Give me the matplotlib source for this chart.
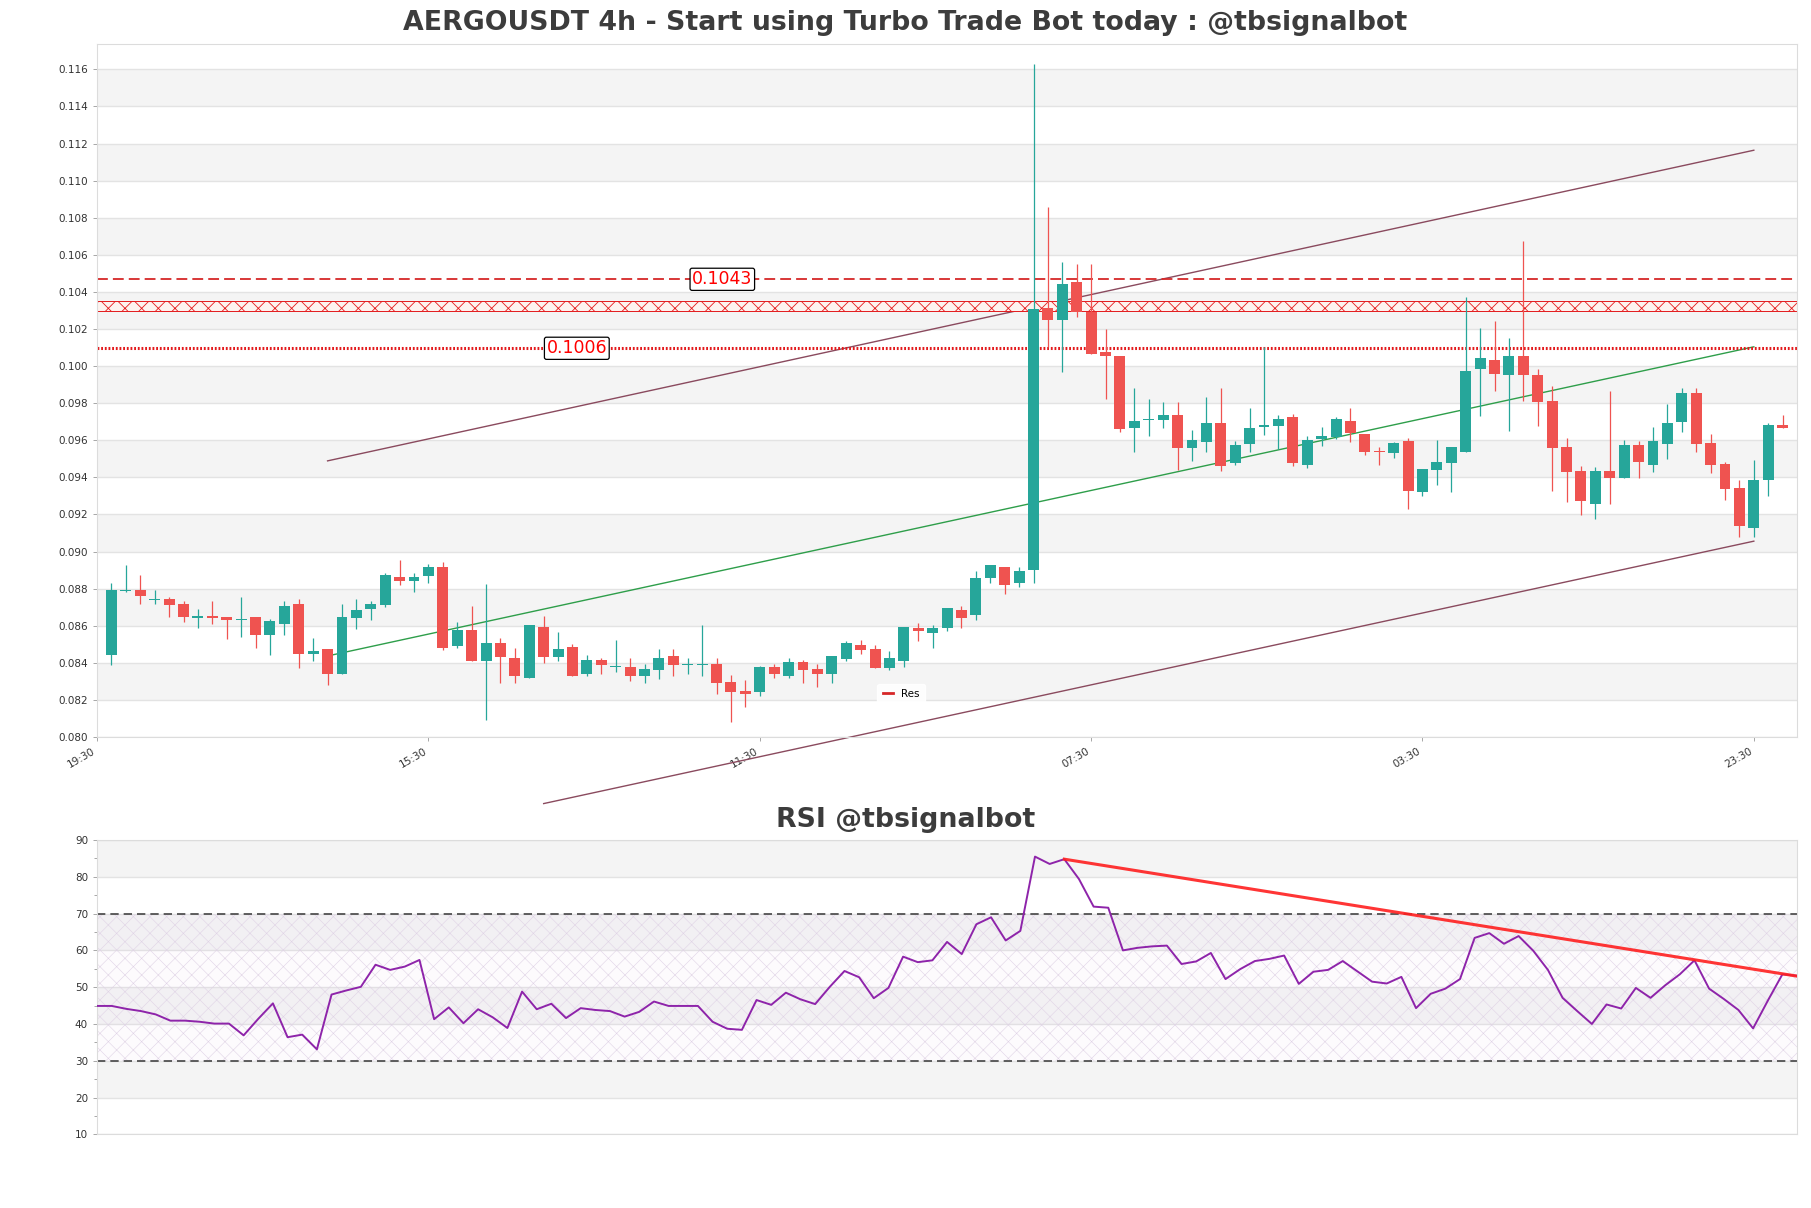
import matplotlib
matplotlib.use("Agg")
import matplotlib.pyplot as plt
import numpy as np

# candle data (4h)
opens = [0.08442, 0.08788, 0.08791, 0.08741, 0.08743, 0.08716, 0.08644, 0.08651, 0.08645, 0.08631,
         0.08645, 0.08550, 0.08609, 0.08716, 0.08447, 0.08473, 0.08339, 0.08642, 0.08690, 0.08712,
         0.08861, 0.08842, 0.08869, 0.08915, 0.08490, 0.08575, 0.08410, 0.08505, 0.08424, 0.08320,
         0.08591, 0.08431, 0.08483, 0.08339, 0.08413, 0.08377, 0.08375, 0.08329, 0.08361, 0.08435,
         0.08390, 0.08390, 0.08392, 0.08294, 0.08246, 0.08242, 0.08375, 0.08329, 0.08402, 0.08365,
         0.08339, 0.08420, 0.08494, 0.08473, 0.08372, 0.08410, 0.08586, 0.08561, 0.08586, 0.08685,
         0.08656, 0.08858, 0.08915, 0.08831, 0.08901, 0.10315, 0.10251, 0.10454, 0.10294, 0.10074,
         0.10054, 0.09668, 0.09710, 0.09712, 0.09737, 0.09560, 0.09593, 0.09694, 0.09479, 0.09582,
         0.09670, 0.09679, 0.09726, 0.09468, 0.09607, 0.09618, 0.09705, 0.09634, 0.09542, 0.09533,
         0.09596, 0.09323, 0.09441, 0.09479, 0.09539, 0.09984, 0.10034, 0.09950, 0.10054, 0.09953,
         0.09813, 0.09564, 0.09434, 0.09258, 0.09434, 0.09395, 0.09575, 0.09468, 0.09582, 0.09701,
         0.09856, 0.09586, 0.09472, 0.09342, 0.09128, 0.09384, 0.09683]
highs = [0.08833, 0.08926, 0.08872, 0.08791, 0.08753, 0.08732, 0.08692, 0.08732, 0.08649, 0.08753,
         0.08645, 0.08634, 0.08732, 0.08743, 0.08532, 0.08473, 0.08716, 0.08743, 0.08732, 0.08883,
         0.08953, 0.08883, 0.08932, 0.08942, 0.08622, 0.08705, 0.08824, 0.08532, 0.08482, 0.08602,
         0.08651, 0.08564, 0.08503, 0.08444, 0.08424, 0.08523, 0.08424, 0.08392, 0.08473, 0.08473,
         0.08424, 0.08602, 0.08424, 0.08332, 0.08305, 0.08383, 0.08392, 0.08424, 0.08413, 0.08392,
         0.08435, 0.08516, 0.08521, 0.08494, 0.08462, 0.08591, 0.08613, 0.08602, 0.08694, 0.08705,
         0.08894, 0.08926, 0.08915, 0.08915, 0.11631, 0.10859, 0.10561, 0.10553, 0.10548, 0.10198,
         0.10054, 0.09883, 0.09823, 0.09807, 0.09807, 0.09654, 0.09836, 0.09883, 0.09596, 0.09775,
         0.10102, 0.09737, 0.09740, 0.09622, 0.09672, 0.09726, 0.09775, 0.09634, 0.09562, 0.09593,
         0.09611, 0.09445, 0.09602, 0.09564, 0.10373, 0.10207, 0.10245, 0.10153, 0.10672, 0.09986,
         0.09895, 0.09611, 0.09463, 0.09456, 0.09865, 0.09600, 0.09596, 0.09672, 0.09796, 0.09883,
         0.09883, 0.09634, 0.09483, 0.09384, 0.09492, 0.09694, 0.09737]
lows = [0.08388, 0.08782, 0.08717, 0.08717, 0.08647, 0.08620, 0.08588, 0.08610, 0.08528, 0.08539,
        0.08480, 0.08442, 0.08550, 0.08372, 0.08410, 0.08280, 0.08339, 0.08584, 0.08631, 0.08701,
        0.08820, 0.08782, 0.08831, 0.08469, 0.08478, 0.08410, 0.08091, 0.08291, 0.08291, 0.08317,
        0.08399, 0.08410, 0.08329, 0.08329, 0.08339, 0.08350, 0.08302, 0.08291, 0.08312, 0.08329,
        0.08339, 0.08329, 0.08231, 0.08080, 0.08161, 0.08220, 0.08318, 0.08318, 0.08291, 0.08269,
        0.08291, 0.08410, 0.08445, 0.08372, 0.08361, 0.08377, 0.08518, 0.08480, 0.08572, 0.08588,
        0.08631, 0.08831, 0.08770, 0.08809, 0.08832, 0.10102, 0.09970, 0.10263, 0.10063, 0.09820,
        0.09643, 0.09539, 0.09622, 0.09668, 0.09438, 0.09490, 0.09539, 0.09432, 0.09468, 0.09539,
        0.09631, 0.09553, 0.09463, 0.09450, 0.09571, 0.09607, 0.09593, 0.09523, 0.09469, 0.09503,
        0.09232, 0.09301, 0.09360, 0.09323, 0.09535, 0.09733, 0.09868, 0.09652, 0.09811, 0.09679,
        0.09328, 0.09268, 0.09198, 0.09175, 0.09254, 0.09395, 0.09398, 0.09431, 0.09501, 0.09643,
        0.09535, 0.09422, 0.09280, 0.09080, 0.09080, 0.09301, 0.09668]
closes = [0.08791, 0.08791, 0.08761, 0.08743, 0.08712, 0.08647, 0.08651, 0.08642, 0.08631, 0.08634,
          0.08550, 0.08624, 0.08705, 0.08447, 0.08462, 0.08339, 0.08649, 0.08683, 0.08716, 0.08872,
          0.08842, 0.08861, 0.08915, 0.08478, 0.08575, 0.08410, 0.08505, 0.08431, 0.08329, 0.08602,
          0.08431, 0.08473, 0.08329, 0.08413, 0.08388, 0.08383, 0.08329, 0.08365, 0.08424, 0.08388,
          0.08393, 0.08392, 0.08290, 0.08242, 0.08231, 0.08375, 0.08339, 0.08402, 0.08361, 0.08339,
          0.08435, 0.08505, 0.08469, 0.08372, 0.08424, 0.08591, 0.08571, 0.08586, 0.08694, 0.08642,
          0.08860, 0.08926, 0.08820, 0.08894, 0.10306, 0.10251, 0.10445, 0.10290, 0.10063, 0.10052,
          0.09663, 0.09703, 0.09715, 0.09737, 0.09560, 0.09600, 0.09694, 0.09461, 0.09575, 0.09665,
          0.09683, 0.09715, 0.09479, 0.09600, 0.09622, 0.09715, 0.09640, 0.09539, 0.09535, 0.09586,
          0.09328, 0.09445, 0.09483, 0.09564, 0.09975, 0.10045, 0.09960, 0.10054, 0.09950, 0.09809,
          0.09560, 0.09431, 0.09270, 0.09434, 0.09395, 0.09575, 0.09481, 0.09596, 0.09694, 0.09856,
          0.09582, 0.09469, 0.09339, 0.09139, 0.09384, 0.09683, 0.09668]

rsi = [44.9, 44.9, 44.1, 43.5, 42.6, 40.9, 40.9, 40.6, 40.1, 40.1,
       36.9, 41.4, 45.6, 36.4, 37.1, 33.1, 48.0, 49.1, 50.1, 56.1,
       54.7, 55.6, 57.4, 41.3, 44.5, 40.2, 44.0, 41.8, 38.9, 48.8,
       44.0, 45.5, 41.6, 44.3, 43.8, 43.5, 42.0, 43.3, 46.1, 44.9,
       44.9, 44.9, 40.6, 38.7, 38.4, 46.5, 45.2, 48.5, 46.7, 45.4,
       50.1, 54.4, 52.7, 47.0, 49.8, 58.3, 56.8, 57.3, 62.3, 59.0,
       67.1, 69.0, 62.7, 65.3, 85.5, 83.5, 84.8, 79.4, 71.9, 71.6,
       60.0, 60.7, 61.1, 61.3, 56.3, 57.0, 59.3, 52.2, 54.9, 57.1,
       57.7, 58.6, 50.9, 54.2, 54.7, 57.1, 54.3, 51.5, 51.0, 52.8,
       44.3, 48.2, 49.6, 52.2, 63.4, 64.7, 61.8, 63.9, 59.9, 54.7,
       47.1, 43.5, 40.0, 45.3, 44.2, 49.8, 47.1, 50.5, 53.5, 57.3,
       49.6, 46.8, 43.8, 38.8, 46.3, 53.5, 53.1]

tick_pos = [-1, 22, 45, 68, 91, 114]
tick_labels = ["19:30", "15:30", "11:30", "07:30", "03:30", "23:30"]

# support / resistance levels
res_dashed = 0.10468
res_zone = [0.10299, 0.10351]
res_dotted = 0.10096
res_labels = ["0.1043", "0.1006"]
res_label_x = [42.4, 32.3]
res_label_y = [res_dashed, res_dotted]

# channel lines
upper_x, upper_y = [15, 114], [0.09489, 0.11164]
lower_x, lower_y = [30, 114], [0.07641, 0.09056]
mid_x, mid_y = [15, 114], [0.08437, 0.10104]
rsi_trend_x, rsi_trend_y = [66, 116], [84.8, 53.0]

UP = '#26a69a'
DOWN = '#ef5350'
BAND = '#f4f4f4'
GRID = '#e3e3e3'

fig = plt.figure(figsize=(18.11, 12.08), dpi=100)
ax = fig.add_axes([0.0536, 0.3899, 0.9387, 0.5737])
ax2 = fig.add_axes([0.0536, 0.0610, 0.9387, 0.2436])


def style_axes(a):
    for s in a.spines.values():
        s.set_color('#dcdcdc')
    a.tick_params(labelsize=7.5, colors='#333333', length=3, width=0.6)
    a.tick_params(axis='both', color='#999999')


# ---- main price chart
x = np.arange(len(opens))
o = np.array(opens)
c = np.array(closes)
colors = [UP if cc >= oo else DOWN for oo, cc in zip(o, c)]

ax.set_xlim(-1, 117)
ax.set_ylim(0.080, 0.11737)
yt = np.arange(0.080, 0.1161, 0.002)
ax.set_yticks(yt)
ax.set_yticklabels([f"{v:.3f}" for v in yt])
for i in range(len(yt) - 1):
    if i % 2 == 1:
        ax.axhspan(yt[i], yt[i + 1], color=BAND, zorder=0, lw=0)
for v in yt:
    ax.axhline(v, color=GRID, lw=1, zorder=0.5)

ax.vlines(x, lows, highs, colors=colors, lw=0.9, zorder=3)
body = np.maximum(np.abs(c - o), 0.00004)
ax.bar(x, body, bottom=np.minimum(o, c), width=0.76, color=colors, zorder=4, lw=0)

ax.plot(upper_x, upper_y, color='#8a4a5e', lw=1, zorder=2)
ax.plot(lower_x, lower_y, color='#8a4a5e', lw=1, zorder=2, clip_on=False)
ax.plot(mid_x, mid_y, color='#2e9e4a', lw=1, zorder=2)

ax.axhline(res_dashed, color='#d62728', lw=1.3, ls=(0, (6, 2.8)), zorder=2, label='Res')
plt.rcParams['hatch.linewidth'] = 0.6
plt.rcParams['hatch.color'] = '#e31a1c'
ax.axhspan(res_zone[0], res_zone[1], facecolor='#fdf3ef', edgecolor='#e31a1c', hatch='xx',
           lw=0.7, zorder=2)
ax.axhline(res_dotted, color='#e31a1c', lw=2.2, ls=(0, (0.6, 0.6)), zorder=2)

for txt, tx, ty in zip(res_labels, res_label_x, res_label_y):
    ax.text(tx, ty, txt, color='red', fontsize=12.5, ha='center', va='center', zorder=6,
            bbox=dict(boxstyle='round,pad=0.12', fc='white', ec='black', lw=0.9))

ax.set_xticks(tick_pos)
ax.set_xticklabels(tick_labels, rotation=30, ha='right')
style_axes(ax)
leg = ax.legend(loc='lower left', bbox_to_anchor=(0.456, 0.04), fontsize=7.5, frameon=True,
                handlelength=1.0, borderpad=0.5)
leg.get_frame().set_edgecolor('white')
leg.get_frame().set_facecolor('white')
leg.get_frame().set_alpha(0.9)
for h in leg.get_lines():
    h.set_linestyle('-')
    h.set_linewidth(2)

# ---- RSI panel
ax2.set_xlim(0, len(rsi) - 1)
ax2.set_ylim(10, 90)
rt = np.arange(10, 91, 10)
ax2.set_yticks(rt)
ax2.set_yticks(np.arange(15, 90, 10), minor=True)
for i in range(len(rt) - 1):
    if i % 2 == 1:
        ax2.axhspan(rt[i], rt[i + 1], color=BAND, zorder=0, lw=0)
for v in rt:
    ax2.axhline(v, color=GRID, lw=1, zorder=0.5)
plt.rcParams['hatch.linewidth'] = 0.4
plt.rcParams['hatch.color'] = '#e0d3e6'
ax2.fill_between([0, len(rsi) - 1], 30, 70, facecolor=(0.85, 0.7, 0.9, 0.05),
                 edgecolor='#e0d3e6', hatch='xx', lw=0, zorder=1)
ax2.axhline(70, color='#444444', lw=1.2, ls=(0, (5, 3)), zorder=2)
ax2.axhline(30, color='#444444', lw=1.2, ls=(0, (5, 3)), zorder=2)
ax2.plot(np.arange(len(rsi)), rsi, color='#8e24aa', lw=1.4, zorder=3)
ax2.plot(rsi_trend_x, rsi_trend_y, color='#ff1f1f', lw=2.2, alpha=0.9, zorder=4)
ax2.set_xticks([])
style_axes(ax2)
ax2.tick_params(which='minor', length=2, color='#999999')

fig.text(0.5, 0.981, "AERGOUSDT 4h - Start using Turbo Trade Bot today : @tbsignalbot",
         ha='center', va='center', fontsize=19.3, fontweight='bold', color='#3c3c3c')
fig.text(0.5, 0.3212, "RSI @tbsignalbot", ha='center', va='center', fontsize=19.3,
         fontweight='bold', color='#3c3c3c')

fig.savefig("out.png", dpi=100)
